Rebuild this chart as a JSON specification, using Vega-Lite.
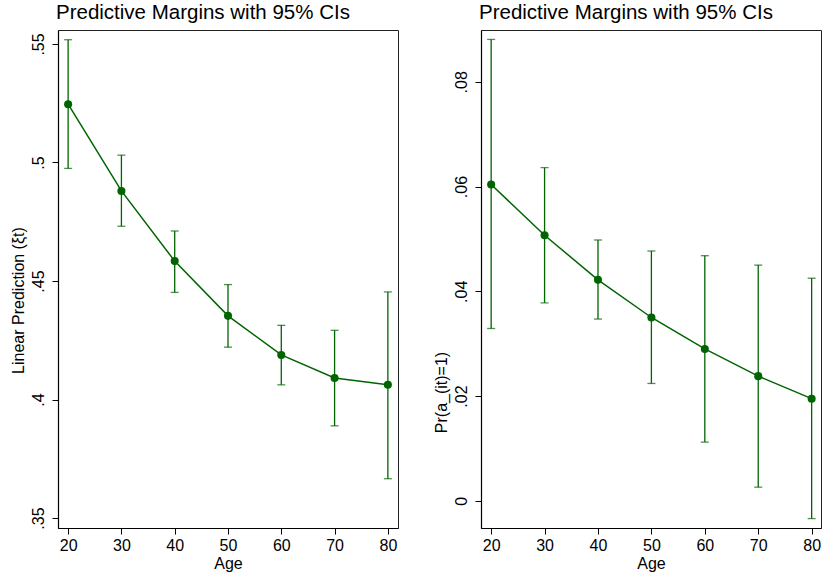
{
  "$schema": "https://vega.github.io/schema/vega-lite/v6.json",
  "background": "white",
  "padding": {"left": 9, "top": 2, "right": 0, "bottom": 0},
  "spacing": 33,
  "datasets": {
    "left": [
      {"age": 20, "est": 0.5246, "lo": 0.4975, "hi": 0.5518},
      {"age": 30, "est": 0.4880, "lo": 0.4731, "hi": 0.5031},
      {"age": 40, "est": 0.4584, "lo": 0.4452, "hi": 0.4711},
      {"age": 50, "est": 0.4353, "lo": 0.4221, "hi": 0.4485},
      {"age": 60, "est": 0.4188, "lo": 0.4062, "hi": 0.4313},
      {"age": 70, "est": 0.4091, "lo": 0.3889, "hi": 0.4292},
      {"age": 80, "est": 0.4062, "lo": 0.3666, "hi": 0.4454}
    ],
    "right": [
      {"age": 20, "est": 0.0604, "lo": 0.0329, "hi": 0.0881},
      {"age": 30, "est": 0.0507, "lo": 0.0378, "hi": 0.0636},
      {"age": 40, "est": 0.0422, "lo": 0.0347, "hi": 0.0498},
      {"age": 50, "est": 0.0350, "lo": 0.0224, "hi": 0.0477},
      {"age": 60, "est": 0.0290, "lo": 0.0112, "hi": 0.0468},
      {"age": 70, "est": 0.0238, "lo": 0.0026, "hi": 0.0450},
      {"age": 80, "est": 0.0195, "lo": -0.0034, "hi": 0.0425}
    ]
  },
  "config": {
    "view": {"stroke": "#222222", "strokeWidth": 1},
    "axis": {
      "labelFont": "Liberation Sans", "labelFontSize": 16, "labelColor": "black",
      "titleFont": "Liberation Sans", "titleFontSize": 16, "titleFontWeight": "normal", "titleColor": "black",
      "tickColor": "black", "domainColor": "black", "tickSize": 6, "grid": false, "domainWidth": 1.2, "tickWidth": 1
    },
    "axisX": {"labelPadding": 3, "titlePadding": 2},
    "axisY": {"labelAngle": 270, "labelPadding": 6, "titlePadding": 4},
    "title": {"font": "Liberation Sans", "fontSize": 20.5, "fontWeight": "normal", "color": "black", "anchor": "start", "frame": "group", "offset": 7, "baseline": "alphabetic", "dx": -2}
  },
  "hconcat": [
    {
      "title": "Predictive Margins with 95% CIs",
      "width": 340, "height": 498,
      "data": {"name": "left"},
      "encoding": {
        "x": {"field": "age", "type": "quantitative", "scale": {"domain": [18.1, 81.9], "nice": false, "zero": false},
              "axis": {"values": [20, 30, 40, 50, 60, 70, 80], "title": "Age"}}
      },
      "layer": [
        {"mark": {"type": "rule", "color": "#006400", "strokeWidth": 1.3},
         "encoding": {
           "y": {"field": "lo", "type": "quantitative", "title": "Linear Prediction (ξt)",
                 "scale": {"domain": [0.3458, 0.5559], "nice": false, "zero": false},
                 "axis": {"values": [0.35, 0.4, 0.45, 0.5, 0.55], "labelExpr": "datum.value == 0 ? '0' : slice(format(datum.value, '.2~f'), 1)", "titleY": 270}},
           "y2": {"field": "hi"}}},
        {"mark": {"type": "tick", "orient": "horizontal", "size": 8, "thickness": 1.3, "color": "#006400"},
         "encoding": {"y": {"field": "lo", "type": "quantitative", "title": "Linear Prediction (ξt)"}}},
        {"mark": {"type": "tick", "orient": "horizontal", "size": 8, "thickness": 1.3, "color": "#006400"},
         "encoding": {"y": {"field": "hi", "type": "quantitative", "title": "Linear Prediction (ξt)"}}},
        {"mark": {"type": "line", "color": "#006400", "strokeWidth": 1.5},
         "encoding": {"y": {"field": "est", "type": "quantitative", "title": "Linear Prediction (ξt)"}}},
        {"mark": {"type": "point", "filled": true, "opacity": 1, "color": "#006400", "size": 65},
         "encoding": {"y": {"field": "est", "type": "quantitative", "title": "Linear Prediction (ξt)"}}}
      ]
    },
    {
      "title": "Predictive Margins with 95% CIs",
      "width": 340, "height": 498,
      "data": {"name": "right"},
      "encoding": {
        "x": {"field": "age", "type": "quantitative", "scale": {"domain": [18.1, 81.75], "nice": false, "zero": false},
              "axis": {"values": [20, 30, 40, 50, 60, 70, 80], "title": "Age"}}
      },
      "layer": [
        {"mark": {"type": "rule", "color": "#006400", "strokeWidth": 1.3},
         "encoding": {
           "y": {"field": "lo", "type": "quantitative", "title": "Pr(a_(it)=1)",
                 "scale": {"domain": [-0.0052, 0.0899], "nice": false, "zero": false},
                 "axis": {"values": [0, 0.02, 0.04, 0.06, 0.08], "labelExpr": "datum.value == 0 ? '0' : slice(format(datum.value, '.2~f'), 1)", "titleY": 362}},
           "y2": {"field": "hi"}}},
        {"mark": {"type": "tick", "orient": "horizontal", "size": 8, "thickness": 1.3, "color": "#006400"},
         "encoding": {"y": {"field": "lo", "type": "quantitative", "title": "Pr(a_(it)=1)"}}},
        {"mark": {"type": "tick", "orient": "horizontal", "size": 8, "thickness": 1.3, "color": "#006400"},
         "encoding": {"y": {"field": "hi", "type": "quantitative", "title": "Pr(a_(it)=1)"}}},
        {"mark": {"type": "line", "color": "#006400", "strokeWidth": 1.5},
         "encoding": {"y": {"field": "est", "type": "quantitative", "title": "Pr(a_(it)=1)"}}},
        {"mark": {"type": "point", "filled": true, "opacity": 1, "color": "#006400", "size": 65},
         "encoding": {"y": {"field": "est", "type": "quantitative", "title": "Pr(a_(it)=1)"}}}
      ]
    }
  ]
}
